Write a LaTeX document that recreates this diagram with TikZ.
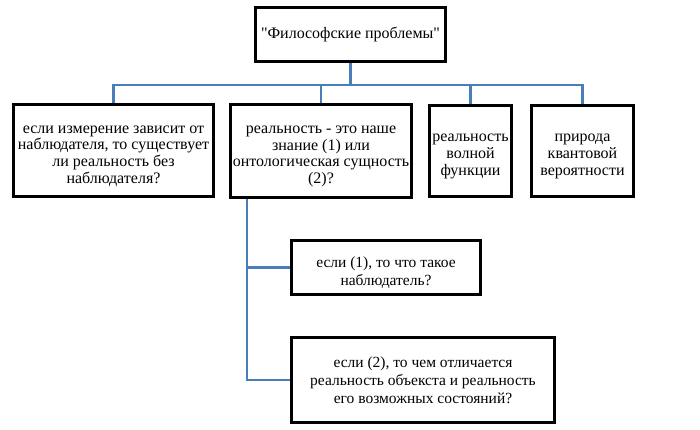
\documentclass[tikz,border=0pt]{standalone}
\usepackage{fontspec}
\setmainfont{Liberation Serif}
\usetikzlibrary{calc}
\definecolor{linkblue}{HTML}{4A7EBB}
\newcommand{\dropstrut}[1]{\rule{0pt}{#1}}
\tikzset{
  box/.style={draw=black, line width=3pt, fill=white, align=center, inner sep=1pt,
    font=\fontsize{16}{16.7}\selectfont},
  lowbox/.style={box, font=\fontsize{15.5}{18}\selectfont},
  conn/.style={draw=linkblue, line width=2.7pt}
}
\begin{document}
\begin{tikzpicture}[x=1pt,y=-1pt]
\useasboundingbox (0,0) rectangle (700,430);
\node[box, minimum width=190pt, minimum height=54pt] (top) at (350.5,34.5) {\textquotedbl Философские проблемы\textquotedbl};
\node[box, minimum width=200pt, minimum height=92pt] (b1) at (113.5,150.5) {\dropstrut{18.5pt}если измерение зависит от\\наблюдателя, то существует\\ли реальность без\\наблюдателя?};
\node[box, minimum width=181pt, minimum height=93pt] (b2) at (321,151) {\dropstrut{18.5pt}реальность - это наше\\знание (1) или\\онтологическая сущность\\(2)?};
\node[box, minimum width=82pt, minimum height=91pt] (b3) at (470.5,151) {\dropstrut{18.5pt}реальность\\волной\\функции};
\node[box, minimum width=102pt, minimum height=91pt] (b4) at (582.5,151) {\dropstrut{18.5pt}природа\\квантовой\\вероятности};
\node[lowbox, minimum width=189pt, minimum height=54pt] (b5) at (386,267.5) {\dropstrut{20.5pt}если (1), то что такое\\наблюдатель?};
\node[lowbox, minimum width=263pt, minimum height=85pt] (b6) at (423,380) {если (2), то чем отличается\\реальность объекста и реальность\\его возможных состояний?};
\coordinate (bus) at ($(top.south)+(0,22)$);
\coordinate (side) at ($(b2.south west)+(18,0)$);
\draw[conn] (top.south) -- (bus);
\draw[conn] (bus) -| (b1.north);
\draw[conn] (bus) -| (b2.north);
\draw[conn] (bus) -| (b3.north);
\draw[conn] (bus) -| (b4.north);
\draw[conn] (side) |- (b5.west);
\draw[conn] (side) |- (b6.west);
\end{tikzpicture}
\end{document}
